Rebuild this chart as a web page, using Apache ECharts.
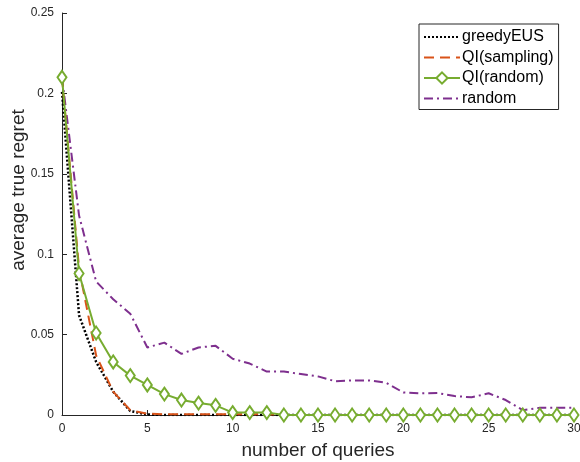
<!DOCTYPE html>
<html>
<head>
<meta charset="utf-8">
<script src="https://cdn.jsdelivr.net/npm/echarts@6/dist/echarts.min.js"></script>
<style>html,body{margin:0;padding:0;background:#fff;}#c{width:580px;height:462px;}</style>
</head>
<body>
<div id="c"></div>
<script>
var queries = [0,1,2,3,4,5,6,7,8,9,10,11,12,13,14,15,16,17,18,19,20,21,22,23,24,25,26,27,28,29,30];
var greedyEUS = [0.201,0.062,0.033,0.0145,0.0025,0.0003,0,0,0,0,0,0,0,0,0,0,0,0,0,0,0,0,0,0,0,0,0,0,0,0,0];
var qiSampling = [0.21,0.091,0.037,0.0145,0.003,0.0008,0.0005,0.0005,0.0005,0.0005,0.0005,0.0005,0.0005,0,0,0,0,0,0,0,0,0,0,0,0,0,0,0,0,0,0];
var qiRandom = [0.21,0.088,0.051,0.033,0.0245,0.0187,0.013,0.0093,0.0074,0.006,0.0015,0.0015,0.0015,0,0,0,0,0,0,0,0,0,0,0,0,0,0,0,0,0,0];
var randomSel = [0.21,0.124,0.083,0.072,0.063,0.042,0.045,0.038,0.042,0.043,0.035,0.032,0.027,0.027,0.0255,0.024,0.021,0.0215,0.0215,0.020,0.014,0.0135,0.0137,0.0118,0.011,0.0135,0.0093,0.003,0.0045,0.0045,0.0045];
var seriesNames = ['greedyEUS','QI(sampling)','QI(random)','random'];
var xTicks = [0,5,10,15,20,25,30];
var yTicks = [0,0.05,0.1,0.15,0.2,0.25];

function pairs(ys){ return queries.map(function(x,i){ return [x, ys[i]]; }); }

var chart = echarts.init(document.getElementById('c'), null, {renderer:'canvas'});
var txt = '#262626';
var ff = 'Liberation Sans, Arial, sans-serif';
chart.setOption({
  animation:false,
  backgroundColor:'#fff',
  grid:{left:62, right:6, top:13, bottom:47, containLabel:false, outerBoundsMode:'none'},
  legend:{
    left:419, top:24, orient:'vertical',
    backgroundColor:'#fff', borderColor:'#262626', borderWidth:1,
    padding:[5,5,3,4], itemGap:4.5, itemWidth:36, itemHeight:14,
    textStyle:{fontFamily:ff, fontSize:16, lineHeight:14, color:'#000', padding:[0,0,0,-3]},
    data:[
      {name:seriesNames[0], itemStyle:{opacity:0}},
      {name:seriesNames[1], itemStyle:{opacity:0}},
      {name:seriesNames[2]},
      {name:seriesNames[3], itemStyle:{opacity:0}}
    ]
  },
  xAxis:{
    type:'value', min:0, max:30, interval:5,
    name:'number of queries', nameLocation:'middle', nameGap:26, nameMoveOverlap:false,
    nameTextStyle:{fontFamily:ff, fontSize:19, color:txt},
    axisLine:{onZero:false, lineStyle:{color:'#262626', width:1}},
    axisTick:{inside:true, length:5, lineStyle:{color:'#262626'}},
    axisLabel:{fontFamily:ff, fontSize:12, color:txt, margin:8},
    splitLine:{show:false}
  },
  yAxis:{
    type:'value', min:0, max:0.25, interval:0.05,
    name:'average true regret', nameLocation:'middle', nameGap:34, nameRotate:90, nameMoveOverlap:false,
    nameTextStyle:{fontFamily:ff, fontSize:19, color:txt, padding:[0,0,0,48]},
    axisLine:{show:true, onZero:false, lineStyle:{color:'#262626', width:1}},
    axisTick:{show:true, inside:true, length:5, lineStyle:{color:'#262626'}},
    axisLabel:{fontFamily:ff, fontSize:12, color:txt, margin:8},
    splitLine:{show:false}
  },
  series:[
    {name:seriesNames[0], type:'line', data:pairs(greedyEUS), showSymbol:false, symbol:'none',
     itemStyle:{color:'#000'}, lineStyle:{color:'#000', width:2.5, type:[2,2]}, z:3},
    {name:seriesNames[1], type:'line', data:pairs(qiSampling), showSymbol:false, symbol:'none',
     itemStyle:{color:'#D95319'}, lineStyle:{color:'#D95319', width:2, type:[10,6]}, z:4},
    {name:seriesNames[2], type:'line', data:pairs(qiRandom), symbol:'emptyDiamond', symbolSize:[9,13],
     itemStyle:{color:'#77AC30', borderColor:'#77AC30', borderWidth:2},
     lineStyle:{color:'#77AC30', width:2, type:'solid'}, z:5},
    {name:seriesNames[3], type:'line', data:pairs(randomSel), showSymbol:false, symbol:'none',
     itemStyle:{color:'#7E2F8E'}, lineStyle:{color:'#7E2F8E', width:2, type:[9,4,2,4]}, z:2}
  ]
});
</script>
</body>
</html>
